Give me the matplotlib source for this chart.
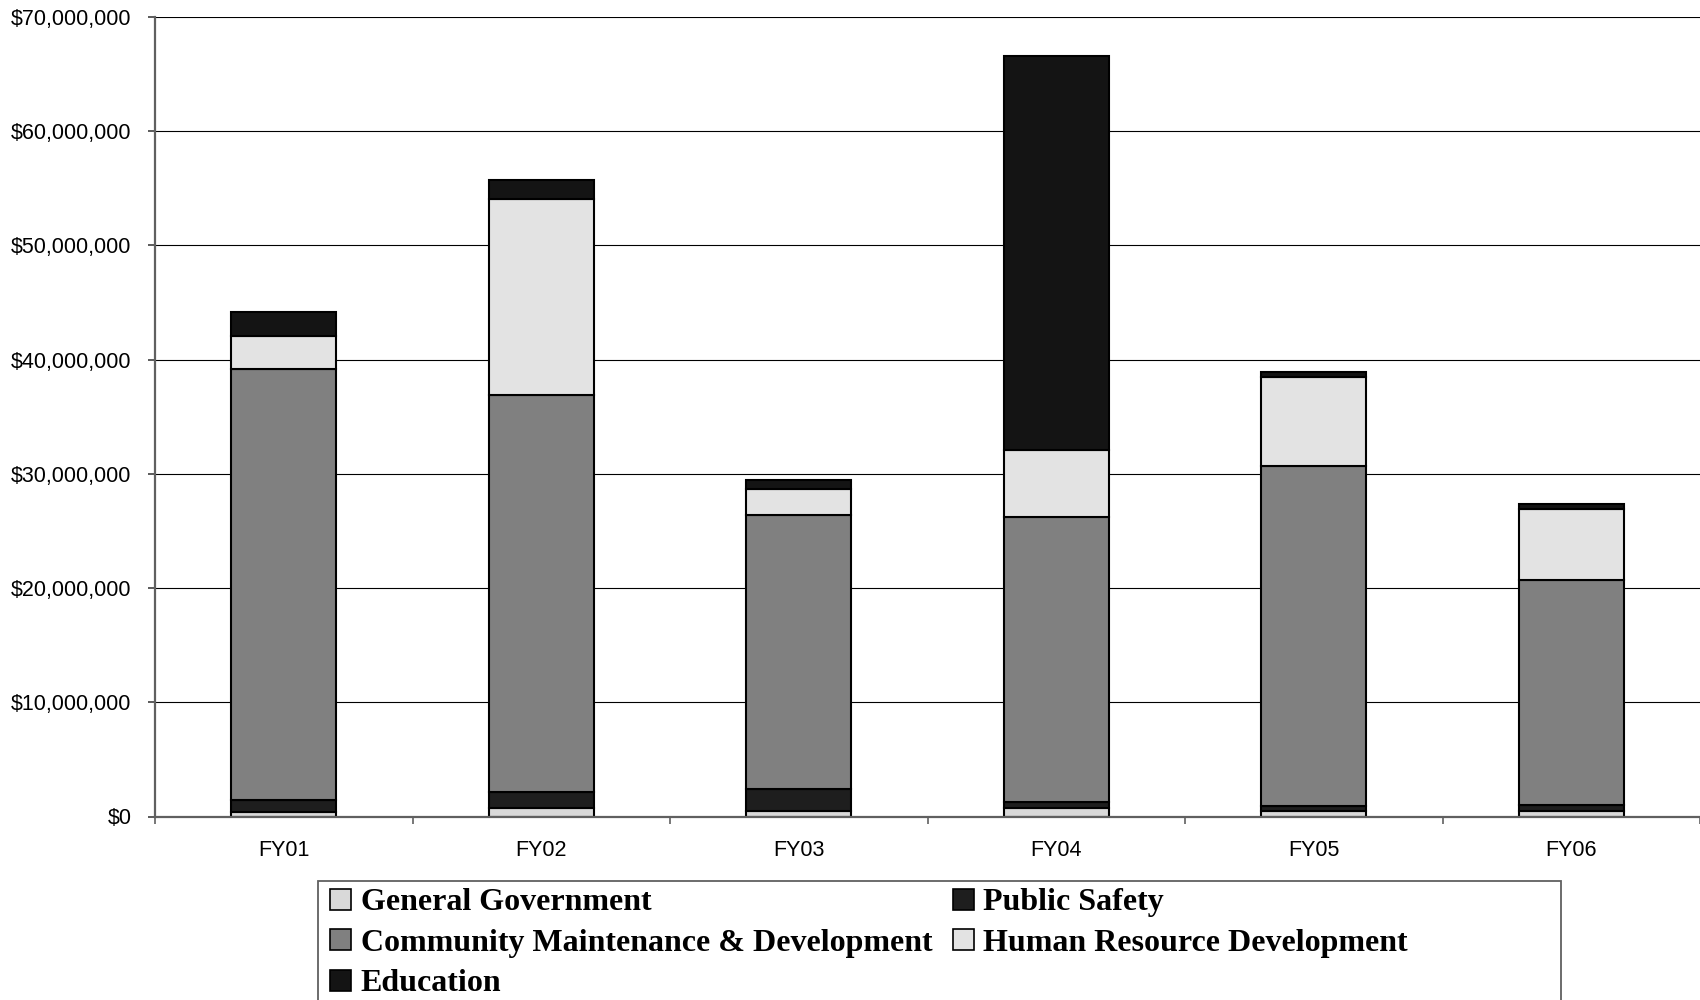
import matplotlib
matplotlib.use("Agg")
import matplotlib.pyplot as plt
from matplotlib.patches import Patch, Rectangle
import numpy as np

# Spending by category, fiscal years 2001-2006 (dollars, millions)
years = ["FY01", "FY02", "FY03", "FY04", "FY05", "FY06"]
general_government = [0.37, 0.72, 0.51, 0.72, 0.51, 0.48]
public_safety = [1.08, 1.43, 1.87, 0.58, 0.41, 0.52]
community_maint_dev = [37.71, 34.79, 24.02, 24.90, 29.80, 19.71]
human_resource_dev = [2.94, 17.09, 2.28, 5.89, 7.74, 6.19]
education = [2.08, 1.71, 0.79, 34.50, 0.49, 0.46]

series = [
    ("General Government", general_government, "#d9d9d9"),
    ("Public Safety", public_safety, "#1e1e1e"),
    ("Community Maintenance & Development", community_maint_dev, "#808080"),
    ("Human Resource Development", human_resource_dev, "#e3e3e3"),
    ("Education", education, "#141414"),
]

fig = plt.figure(figsize=(17, 10), dpi=100)
ax = fig.add_axes([155 / 1700, 1 - 816.5 / 1000, 1 - 155 / 1700, (816.5 - 17) / 1000])

x = np.arange(len(years))
bottom = np.zeros(len(years))
handles = {}
for name, vals, color in series:
    v = np.array(vals) * 1e6
    ax.bar(x, v, width=0.408, bottom=bottom, color=color, edgecolor="black",
           linewidth=1.5, zorder=3)
    bottom += v
    handles[name] = Patch(facecolor=color, edgecolor="black", linewidth=1.2)

ax.set_xlim(-0.5, len(years) - 0.5)
ax.set_ylim(0, 70e6)
ax.set_yticks(np.arange(0, 70e6 + 1, 10e6))
ax.yaxis.set_major_formatter(matplotlib.ticker.FuncFormatter(lambda v, p: f"${v:,.0f}"))
ax.grid(axis="y", color="black", linewidth=0.8, zorder=0)

ax.set_xticks(x)
ax.set_xticklabels(years)
ax.set_xticks(np.arange(-0.5, len(years)), minor=True)
ax.tick_params(axis="x", which="major", length=0, pad=17)
ax.tick_params(axis="x", which="minor", length=5, width=1.2, color="#606060")
ax.tick_params(axis="y", length=5, width=1.2, color="#404040", pad=12)

for lab in ax.get_xticklabels() + ax.get_yticklabels():
    lab.set_fontfamily("Liberation Sans")
    lab.set_fontsize(15.5)
    lab.set_color("black")

for side in ("top", "right"):
    ax.spines[side].set_visible(False)
ax.spines["left"].set_color("#606060")
ax.spines["left"].set_linewidth(1.6)
ax.spines["bottom"].set_color("#606060")
ax.spines["bottom"].set_linewidth(1.6)
ax.spines["left"].set_zorder(4)
ax.spines["bottom"].set_zorder(4)

# Legend frame (runs off the bottom edge of the figure)
frame = Rectangle((318 / 1700, 1 - 1040 / 1000), (1561 - 318) / 1700, (1040 - 881) / 1000,
                  transform=fig.transFigure, facecolor="white", edgecolor="#606060",
                  linewidth=1.3)
fig.patches.append(frame)

order = ["General Government", "Community Maintenance & Development", "Education",
         "Public Safety", "Human Resource Development"]
leg = fig.legend([handles[n] for n in order], order, loc="upper left",
                 bbox_to_anchor=(324 / 1700, 1 - 882 / 1000), ncol=2, frameon=False,
                 prop={"family": "Liberation Serif", "weight": "bold", "size": 23},
                 handlelength=0.65, handleheight=0.65, handletextpad=0.3,
                 columnspacing=0.65, labelspacing=0.36, borderaxespad=0, borderpad=0.2)

fig.savefig("out.png", dpi=100)
